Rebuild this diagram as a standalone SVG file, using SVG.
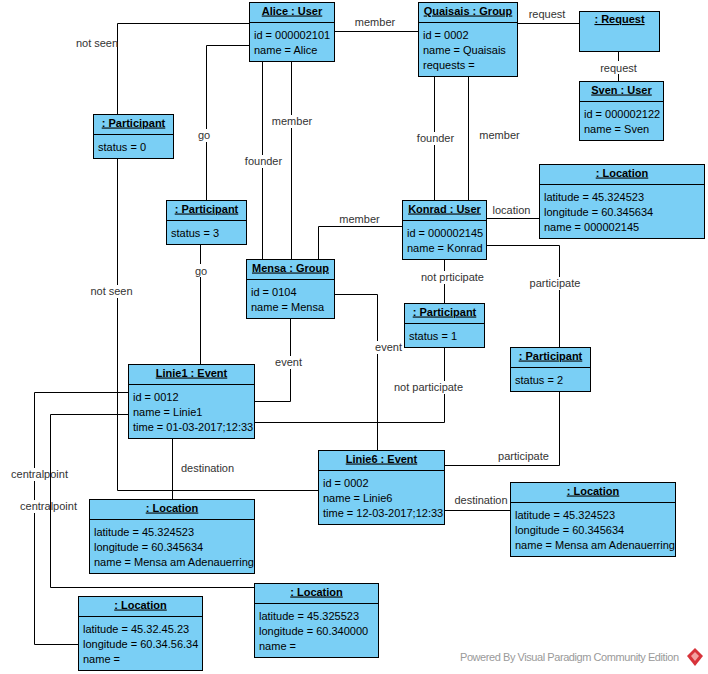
<svg xmlns="http://www.w3.org/2000/svg" width="708" height="674" viewBox="0 0 708 674">
<style>
.box{fill:#7ACFF5;stroke:#000;stroke-width:1}
.sep{stroke:#000;stroke-width:1}
.t{font-family:"Liberation Sans",Arial,sans-serif;font-size:11px;font-weight:bold;text-decoration:underline;text-anchor:middle;fill:#000}
.a{font-family:"Liberation Sans",Arial,sans-serif;font-size:11px;fill:#000}
.c{fill:none;stroke:#000;stroke-width:1}
.l{font-family:"Liberation Sans",Arial,sans-serif;font-size:11px;fill:#333;text-anchor:middle}
.bg{fill:#fff}
.wm{font-family:"Liberation Sans",Arial,sans-serif;font-size:11px;fill:#9a9a9a}
</style>
<rect x="0" y="0" width="708" height="674" fill="#fff"/>
<g id="connectors">
<path class="c" d="M249.5 23.5H117.5V114.5"/>
<path class="c" d="M117.5 158.5V490.5H318.5"/>
<path class="c" d="M249.5 45.5H206.5V200.5"/>
<path class="c" d="M200.5 244.5V364.5"/>
<path class="c" d="M262.5 61.5V259.5"/>
<path class="c" d="M291.5 61.5V259.5"/>
<path class="c" d="M334.5 31.5H418.5"/>
<path class="c" d="M517.5 23.5H579.5"/>
<path class="c" d="M618.5 51.5V81.5"/>
<path class="c" d="M434.5 76.5V200.5"/>
<path class="c" d="M468.5 76.5V200.5"/>
<path class="c" d="M486.5 218.5H539.5"/>
<path class="c" d="M402.5 226.5H318.5V259.5"/>
<path class="c" d="M444.5 259.5V303.5"/>
<path class="c" d="M486.5 245.5H559.5V347.5"/>
<path class="c" d="M444.5 347.5V422.5H254.5"/>
<path class="c" d="M334.5 294.5H377.5V450.5"/>
<path class="c" d="M290.5 318.5V401.5H254.5"/>
<path class="c" d="M444.5 465.5H559.5V391.5"/>
<path class="c" d="M172.5 438.5V499.5"/>
<path class="c" d="M444.5 510.5H510.5"/>
<path class="c" d="M128.5 392.5H34.5V644.5H78.5"/>
<g id="labels">
<text class="l" x="97" y="47">not seen</text>
<rect class="bg" x="90" y="285" width="43" height="13"/><text class="l" x="111.5" y="295">not seen</text>
<rect class="bg" x="197" y="129" width="14" height="13"/><text class="l" x="204" y="139">go</text>
<rect class="bg" x="194" y="264" width="14" height="13"/><text class="l" x="201" y="274.5">go</text>
<rect class="bg" x="244" y="155" width="39" height="13"/><text class="l" x="263.5" y="165">founder</text>
<rect class="bg" x="272" y="115" width="40" height="13"/><text class="l" x="292" y="125">member</text>
<text class="l" x="375" y="26">member</text>
<text class="l" x="547" y="17.5">request</text>
<rect class="bg" x="600" y="61" width="37" height="13"/><text class="l" x="618.5" y="71.5">request</text>
<rect class="bg" x="416" y="132" width="39" height="13"/><text class="l" x="435.5" y="142">founder</text>
<text class="l" x="499.5" y="139">member</text>
<text class="l" x="511.5" y="214">location</text>
<text class="l" x="359.5" y="222.5">member</text>
<rect class="bg" x="418" y="271" width="69" height="13"/><text class="l" x="452.5" y="281">not prticipate</text>
<rect class="bg" x="528" y="277" width="54" height="13"/><text class="l" x="555" y="287">participate</text>
<rect class="bg" x="391" y="381" width="74" height="13"/><text class="l" x="428.5" y="391">not participate</text>
<rect class="bg" x="374" y="341" width="29" height="13"/><text class="l" x="388.5" y="351">event</text>
<rect class="bg" x="274" y="356" width="29" height="13"/><text class="l" x="288.5" y="366">event</text>
<text class="l" x="523.5" y="460">participate</text>
<text class="l" x="207.5" y="472">destination</text>
<text class="l" x="481" y="504">destination</text>
<rect class="bg" x="10" y="468" width="59" height="13"/><text class="l" x="39.5" y="478">centralpoint</text>
<rect class="bg" x="19" y="500" width="59" height="13"/><text class="l" x="48.5" y="510">centralpoint</text>
</g>
<path class="c" d="M128.5 414.5H50.5V587.5H254.5"/>
</g>
<g id="alice"><rect class="box" x="249.5" y="2.5" width="85" height="59"/><line class="sep" x1="249.5" y1="22.5" x2="334.5" y2="22.5"/><text class="t" x="292" y="14.5">Alice : User</text><text class="a" x="254" y="39">id = 000002101</text><text class="a" x="254" y="54">name = Alice</text></g>
<g id="quaisais"><rect class="box" x="418.5" y="2.5" width="99" height="74"/><line class="sep" x1="418.5" y1="22.5" x2="517.5" y2="22.5"/><text class="t" x="468" y="14.5">Quaisais : Group</text><text class="a" x="423" y="39">id = 0002</text><text class="a" x="423" y="54">name = Quaisais</text><text class="a" x="423" y="69">requests =</text></g>
<g id="request"><rect class="box" x="579.5" y="11.5" width="80" height="40"/><text class="t" x="619.5" y="23">: Request</text></g>
<g id="sven"><rect class="box" x="579.5" y="81.5" width="84" height="59"/><line class="sep" x1="579.5" y1="101.5" x2="663.5" y2="101.5"/><text class="t" x="621.5" y="93.5">Sven : User</text><text class="a" x="584" y="118">id = 000002122</text><text class="a" x="584" y="133">name = Sven</text></g>
<g id="loc-konrad"><rect class="box" x="539.5" y="164.5" width="165" height="74"/><line class="sep" x1="539.5" y1="184.5" x2="704.5" y2="184.5"/><text class="t" x="622" y="176.5">: Location</text><text class="a" x="544" y="201">latitude = 45.324523</text><text class="a" x="544" y="216">longitude = 60.345634</text><text class="a" x="544" y="231">name = 000002145</text></g>
<g id="konrad"><rect class="box" x="402.5" y="200.5" width="84" height="59"/><line class="sep" x1="402.5" y1="220.5" x2="486.5" y2="220.5"/><text class="t" x="444.5" y="212.5">Konrad : User</text><text class="a" x="407" y="237">id = 000002145</text><text class="a" x="407" y="252">name = Konrad</text></g>
<g id="participant0"><rect class="box" x="93.5" y="114.5" width="80" height="44"/><line class="sep" x1="93.5" y1="134.5" x2="173.5" y2="134.5"/><text class="t" x="133.5" y="126.5">: Participant</text><text class="a" x="98" y="151">status = 0</text></g>
<g id="participant3"><rect class="box" x="166.5" y="200.5" width="80" height="44"/><line class="sep" x1="166.5" y1="220.5" x2="246.5" y2="220.5"/><text class="t" x="206.5" y="212.5">: Participant</text><text class="a" x="171" y="237">status = 3</text></g>
<g id="mensa"><rect class="box" x="246.5" y="259.5" width="88" height="59"/><line class="sep" x1="246.5" y1="279.5" x2="334.5" y2="279.5"/><text class="t" x="290.5" y="271.5">Mensa : Group</text><text class="a" x="251" y="296">id = 0104</text><text class="a" x="251" y="311">name = Mensa</text></g>
<g id="participant1"><rect class="box" x="404.5" y="303.5" width="80" height="44"/><line class="sep" x1="404.5" y1="323.5" x2="484.5" y2="323.5"/><text class="t" x="444.5" y="315.5">: Participant</text><text class="a" x="409" y="340">status = 1</text></g>
<g id="participant2"><rect class="box" x="510.5" y="347.5" width="80" height="44"/><line class="sep" x1="510.5" y1="367.5" x2="590.5" y2="367.5"/><text class="t" x="550.5" y="359.5">: Participant</text><text class="a" x="515" y="384">status = 2</text></g>
<g id="linie1"><rect class="box" x="128.5" y="364.5" width="126" height="74"/><line class="sep" x1="128.5" y1="384.5" x2="254.5" y2="384.5"/><text class="t" x="191.5" y="376.5">Linie1 : Event</text><text class="a" x="133" y="401">id = 0012</text><text class="a" x="133" y="416">name = Linie1</text><text class="a" x="133" y="431">time = 01-03-2017;12:33</text></g>
<g id="linie6"><rect class="box" x="318.5" y="450.5" width="126" height="74"/><line class="sep" x1="318.5" y1="470.5" x2="444.5" y2="470.5"/><text class="t" x="381.5" y="462.5">Linie6 : Event</text><text class="a" x="323" y="487">id = 0002</text><text class="a" x="323" y="502">name = Linie6</text><text class="a" x="323" y="517">time = 12-03-2017;12:33</text></g>
<g id="loc-dest6"><rect class="box" x="510.5" y="482.5" width="165" height="74"/><line class="sep" x1="510.5" y1="502.5" x2="675.5" y2="502.5"/><text class="t" x="593" y="494.5">: Location</text><text class="a" x="515" y="519">latitude = 45.324523</text><text class="a" x="515" y="534">longitude = 60.345634</text><text class="a" x="515" y="549">name = Mensa am Adenauerring</text></g>
<g id="loc-dest1"><rect class="box" x="89.5" y="499.5" width="165" height="74"/><line class="sep" x1="89.5" y1="519.5" x2="254.5" y2="519.5"/><text class="t" x="172" y="511.5">: Location</text><text class="a" x="94" y="536">latitude = 45.324523</text><text class="a" x="94" y="551">longitude = 60.345634</text><text class="a" x="94" y="566">name = Mensa am Adenauerring</text></g>
<g id="loc-central1"><rect class="box" x="78.5" y="596.5" width="124" height="74"/><line class="sep" x1="78.5" y1="616.5" x2="202.5" y2="616.5"/><text class="t" x="140.5" y="608.5">: Location</text><text class="a" x="83" y="633">latitude = 45.32.45.23</text><text class="a" x="83" y="648">longitude = 60.34.56.34</text><text class="a" x="83" y="663">name =</text></g>
<g id="loc-central2"><rect class="box" x="254.5" y="583.5" width="124" height="74"/><line class="sep" x1="254.5" y1="603.5" x2="378.5" y2="603.5"/><text class="t" x="316.5" y="595.5">: Location</text><text class="a" x="259" y="620">latitude = 45.325523</text><text class="a" x="259" y="635">longitude = 60.340000</text><text class="a" x="259" y="650">name =</text></g>
<g id="watermark">
<text class="wm" x="460" y="661" textLength="219" lengthAdjust="spacing">Powered By  Visual Paradigm Community Edition</text>
<path d="M695 648 L703 656 L695 666 L687 656 Z" fill="#d7333a"/>
<path d="M695 652 L699 656 L695 661 L691 656 Z" fill="#f3a0a0"/>
</g>
</svg>
